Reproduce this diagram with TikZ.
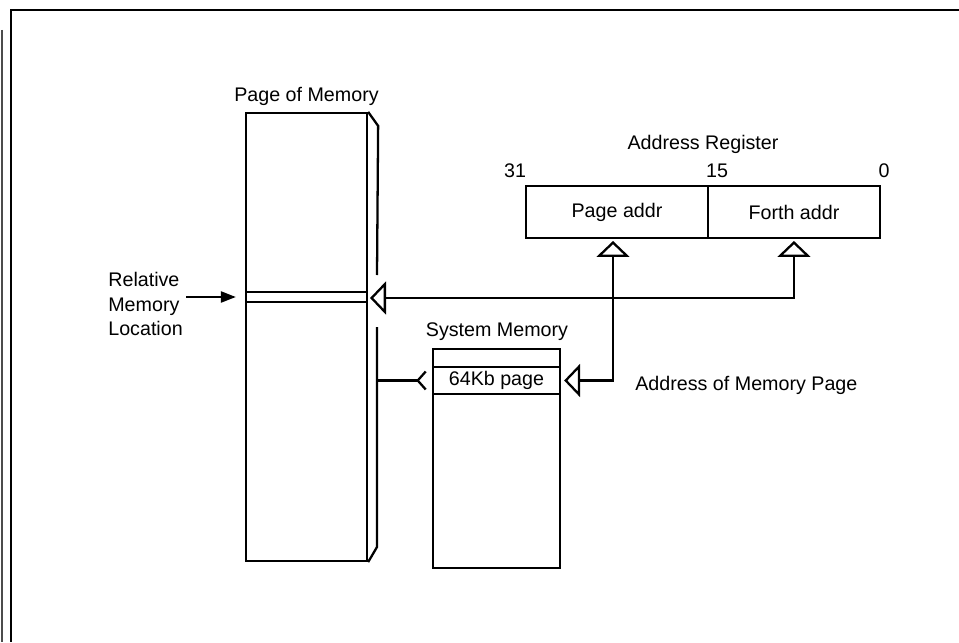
\documentclass[tikz,border=0pt]{standalone}
\usepackage{fontspec}
\setmainfont{Liberation Sans}
\usetikzlibrary{arrows.meta,positioning}
\tikzset{
  membox/.style={draw,line width=1.3pt,inner sep=0pt,minimum width=2.42cm},
  regbox/.style={draw,line width=1.3pt,inner sep=0pt,outer sep=0pt,minimum height=1.04cm},
  slotbox/.style={draw,line width=1.3pt,inner sep=0pt,minimum width=2.54cm},
  lbl/.style={inner sep=0pt},
  arr/.style={-{Triangle[length=0.3cm,width=0.22cm]},line width=1.3pt},
  tarr/.style={{Triangle[open,length=0.32cm,width=0.66cm]}-{Triangle[open,length=0.32cm,width=0.66cm]},line width=1.3pt},
  barb/.style={-{Straight Barb[reversed,length=0.16cm,width=0.36cm]},line width=1.3pt},
}
\begin{document}
\begin{tikzpicture}[x=0.02cm,y=-0.02cm,font=\fontsize{11.2}{14}\selectfont]
    \useasboundingbox (0,0) rectangle (959,642);
    \draw[line width=1.3pt] (959,10) -- (11,10) -- (11,642);
    \draw[line width=0.6pt,black!70] (2,30) -- (2,642);
    \node[membox,minimum height=8.96cm] (page) at (306.5,337) {};
    \node[lbl,above=0.12cm of page] (pagelbl) {Page of Memory};
    \draw[line width=1.3pt] (page.north east) -- ++(10,14) -- (377,275);
    \draw[line width=1.3pt] (377,327) -- (377,547) -- (page.south east);
    \node[membox,minimum height=0.2cm] (loc) at (306.5,297) {};
    \node[lbl,align=left,anchor=west] (rel) at (108,304) {Relative\\Memory\\Location};
    \draw[arr,shorten <=0.06cm,shorten >=0.18cm] (rel.east |- loc) -- (loc.west);
    \node[regbox,minimum width=3.64cm] (pageaddr) at (617,212) {Page addr};
    \node[regbox,minimum width=3.44cm,right=0pt of pageaddr] (forthaddr) {Forth addr};
    \node[lbl,anchor=base] (reglbl) at (703,149) {Address Register};
    \node[lbl,anchor=base] (b31) at (515,177) {31};
    \node[lbl,anchor=base] (b15) at (717,177) {15};
    \node[lbl,anchor=base] (b0) at (884,177) {0};
    \node[slotbox,minimum height=4.38cm] (sysmem) at (496.5,458.5) {};
    \node[slotbox,minimum height=0.54cm] (kbpage) at (496.5,380.5) {64Kb page};
    \node[lbl,anchor=base] (syslbl) at (497,336) {System Memory};
    \node[lbl,anchor=base west] (addrlbl) at (635,390) {Address of Memory Page};
    \coordinate (loctip) at (370,298);
    \coordinate (pside) at (377,380.5);
    \draw[tarr,shorten <=0.06cm] (forthaddr.south) |- (loctip);
    \draw[tarr,shorten <=0.06cm,shorten >=0.06cm] ([xshift=-0.08cm]pageaddr.south) |- (kbpage.east);
    \draw[barb] (pside) -- ([xshift=-0.1cm]kbpage.west);
\end{tikzpicture}
\end{document}
